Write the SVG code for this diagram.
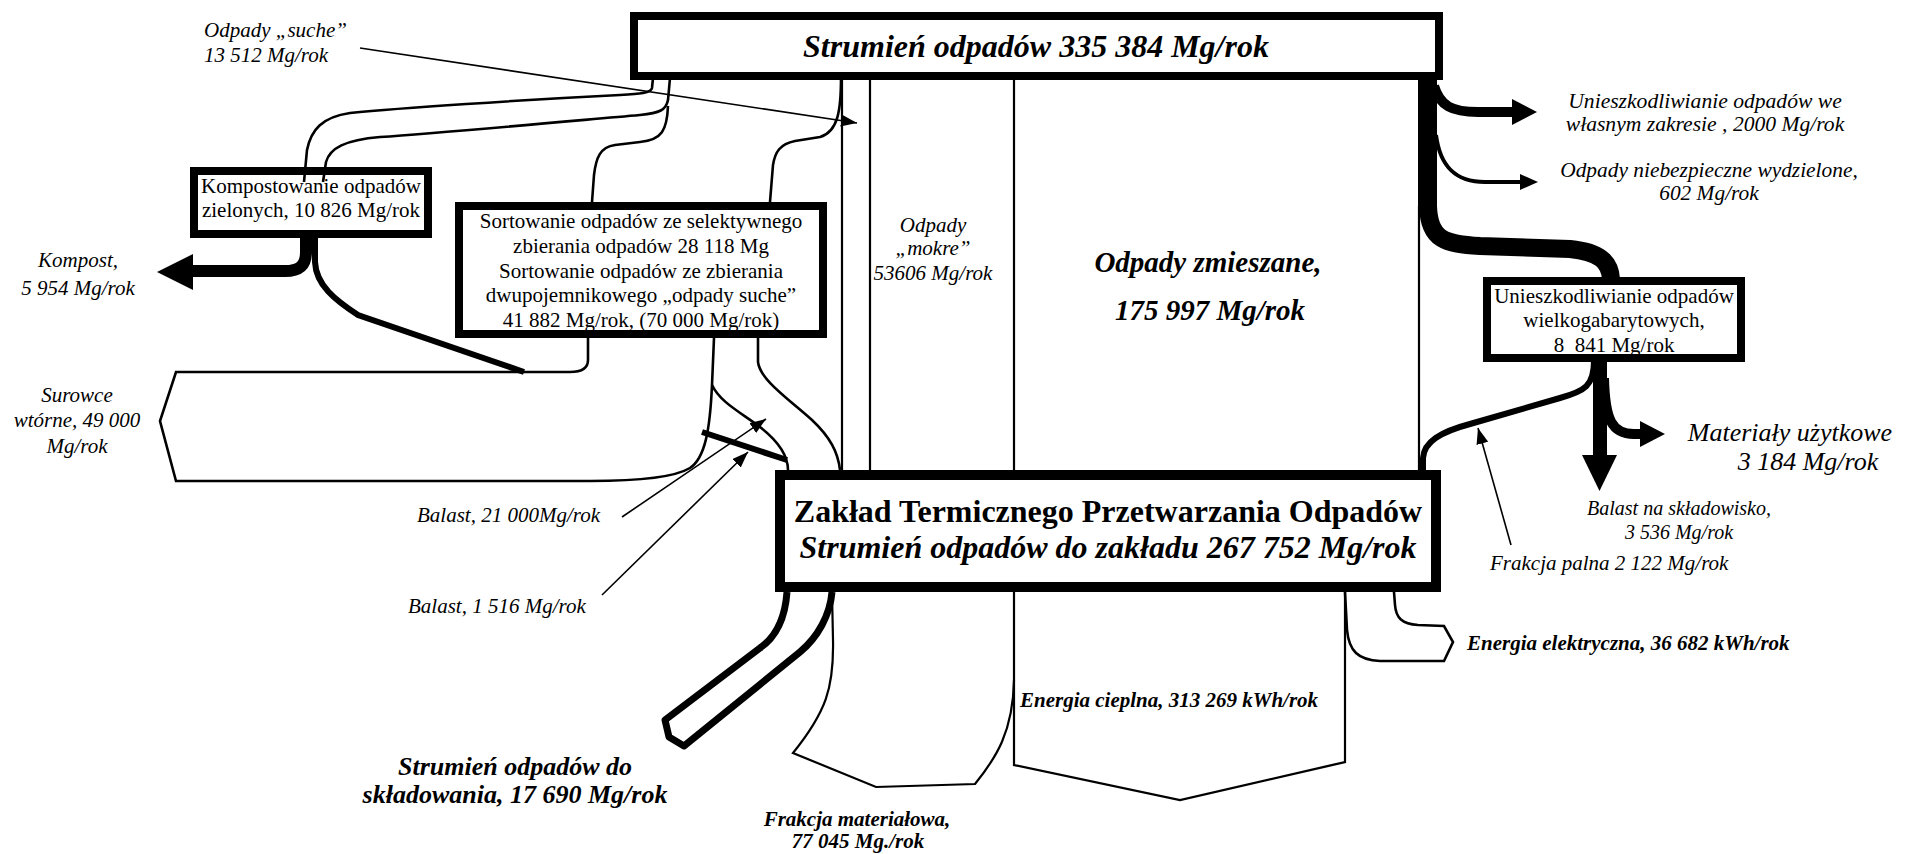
<svg xmlns="http://www.w3.org/2000/svg" width="1906" height="854" viewBox="0 0 1906 854">
<style>
.box{fill:#fff;stroke:#000;stroke-width:8}
.boxz{fill:#fff;stroke:#000;stroke-width:10}
.ln{fill:none;stroke:#000;stroke-width:2.2}
.cv{fill:none;stroke:#000;stroke-width:2.6}
.ptr{fill:none;stroke:#000;stroke-width:1.6;marker-end:url(#ah)}
.thk{fill:none;stroke:#000}
.head{fill:#000}
text{font-family:"Liberation Serif","Times New Roman",serif;fill:#000;font-size:21px}
.i{font-style:italic}
.bi{font-style:italic;font-weight:bold}
.b{font-weight:bold}
.m{text-anchor:middle}
</style>
<defs>
<marker id="ah" markerUnits="userSpaceOnUse" markerWidth="16" markerHeight="12" refX="16" refY="6" orient="auto">
<path d="M0,0L16,6L0,12z" fill="#000"/>
</marker>
</defs>

<!-- process boxes -->
<g id="stream-total">
<rect class="box" x="634" y="16" width="805" height="60"/>
<text class="bi m" x="1036" y="57" style="font-size:32px">Strumień odpadów 335 384 Mg/rok</text>
</g>
<g id="composting">
<rect class="box" x="194" y="171" width="234" height="63"/>
<text class="m" x="311" y="193">Kompostowanie odpadów</text>
<text class="m" x="311" y="217">zielonych, 10 826 Mg/rok</text>
</g>
<g id="sorting">
<rect class="box" x="459" y="206" width="364" height="128"/>
<text class="m" x="641" y="228">Sortowanie odpadów ze selektywnego</text>
<text class="m" x="641" y="253">zbierania odpadów 28 118 Mg</text>
<text class="m" x="641" y="278">Sortowanie odpadów ze zbierania</text>
<text class="m" x="641" y="302">dwupojemnikowego „odpady suche”</text>
<text class="m" x="641" y="327">41 882 Mg/rok, (70 000 Mg/rok)</text>
</g>
<g id="bulky">
<rect class="box" x="1487" y="281" width="254" height="77"/>
<text class="m" x="1614" y="303">Unieszkodliwianie odpadów</text>
<text class="m" x="1614" y="327">wielkogabarytowych,</text>
<text class="m" x="1614" y="352" xml:space="preserve">8  841 Mg/rok</text>
</g>
<g id="plant">
<rect class="boxz" x="780" y="475" width="656" height="112"/>
<text class="b m" x="1108" y="522" style="font-size:32px">Zakład Termicznego Przetwarzania Odpadów</text>
<text class="bi m" x="1108" y="558" style="font-size:32px">Strumień odpadów do zakładu 267 752 Mg/rok</text>
</g>

<!-- flows -->
<g id="connectors">
<!-- straight streams between the two main boxes -->
<path class="ln" d="M842,78V470M870,78V470M1014,78V470M1419,206V470"/>
<!-- outputs below the plant -->
<path class="ln" d="M1014,592V765L1180,800L1345,762V592"/>
<path class="ln" d="M832,592L833,640C834,688 826,712 793,753L876,787L975,784C996,758 1013,732 1014,680"/>
<path class="cv" d="M1345,592L1347,630C1349,651 1358,660 1380,661L1444,661L1453,642L1444,626L1418,625C1402,624 1396,618 1395,605L1394,592"/>
<path class="thk" stroke-width="7" stroke-linejoin="round" d="M787,592C785,620 776,637 760,648L665,720L669,737L684,746L800,652C818,637 830,615 832,592"/>

<!-- right-hand branch -->
<rect x="1418" y="78" width="19" height="132" fill="#000"/>
<path class="thk" stroke-width="18" d="M1428,206C1429,240 1445,244 1480,246L1570,249C1600,252 1610,262 1611,279"/>
<path class="thk" stroke-width="10" d="M1434,86C1440,106 1452,112 1478,112L1515,112"/>
<polygon class="head" points="1512,99 1537,112 1512,125"/>
<path class="thk" stroke-width="4" d="M1436,135C1440,166 1455,182 1485,182L1524,182"/>
<polygon class="head" points="1520,174 1538,182 1520,190"/>
<path class="thk" stroke-width="14" d="M1600,360V458"/>
<polygon class="head" points="1582,455 1617,455 1599.5,491"/>
<path class="thk" stroke-width="10" d="M1604,378C1605,420 1612,434 1634,434L1643,434"/>
<polygon class="head" points="1640,421 1665,434 1640,447"/>
<path class="thk" stroke-width="6" d="M1594,360C1594,386 1585,391 1560,398L1470,424C1440,432 1424,442 1423,458L1423,470"/>
<path class="ptr" d="M1511,545L1478,428"/>

<!-- left-hand branches from the main stream -->
<path class="cv" d="M653,78L652,88C651,93 640,94 620,95C520,100 400,108 350,113C322,117 311,130 307,150L304,182"/>
<path class="cv" d="M670,78L668,100C666,110 660,113 640,115C560,122 440,133 380,137C345,140 330,148 326,162L323,182"/>
<path class="cv" d="M668,106C667,130 662,140 640,142L615,145C600,147 596,158 594,175L592,202"/>
<path class="cv" d="M841,78C841,110 838,132 820,137L795,141C780,144 775,152 773,165L770,202"/>
<path class="ptr" d="M360,48L857,123"/>

<!-- composting outputs -->
<path class="thk" stroke-width="12" d="M306,236V252C306,266 299,271 285,271L190,271"/>
<polygon class="head" points="193,254 157,272 193,290"/>
<path class="thk" stroke-width="6" d="M315,236V262C316,285 335,300 358,315L524,372"/>

<!-- sorting outputs -->
<path class="cv" d="M588,338V360C588,368 582,372 570,372L176,372L160,421L176,481L590,481C640,481 675,477 690,468C705,458 710,430 712,385L714,338"/>
<path class="cv" d="M712,385C720,402 740,412 760,427C778,441 788,455 788,470"/>
<path class="thk" stroke-width="6" d="M702,432L787,460"/>
<path class="cv" d="M758,338V362C760,380 790,400 812,420C830,437 838,452 840,470"/>
<path class="ptr" d="M622,517L766,419"/>
<path class="ptr" d="M602,595L748,452"/>
</g>

<!-- flow labels -->
<g id="labels">
<text class="i" x="204" y="37">Odpady „suche”</text>
<text class="i" x="204" y="62">13 512 Mg/rok</text>
<text class="i m" x="78" y="267">Kompost,</text>
<text class="i m" x="78" y="295">5 954 Mg/rok</text>
<text class="i m" x="77" y="402">Surowce</text>
<text class="i m" x="77" y="427">wtórne, 49 000</text>
<text class="i m" x="77" y="453">Mg/rok</text>
<text class="i" x="417" y="522">Balast, 21 000Mg/rok</text>
<text class="i" x="408" y="613">Balast, 1 516 Mg/rok</text>
<text class="bi m" x="515" y="775" style="font-size:26px">Strumień odpadów do</text>
<text class="bi m" x="515" y="803" style="font-size:26px">składowania, 17 690 Mg/rok</text>
<text class="bi m" x="857" y="826">Frakcja materiałowa,</text>
<text class="bi m" x="858" y="848">77 045 Mg./rok</text>
<text class="bi" x="1020" y="707">Energia cieplna, 313 269 kWh/rok</text>
<text class="bi" x="1467" y="650">Energia elektryczna, 36 682 kWh/rok</text>
<text class="i m" x="933" y="232">Odpady</text>
<text class="i m" x="933" y="255">„mokre”</text>
<text class="i m" x="933" y="280">53606 Mg/rok</text>
<text class="bi m" x="1208" y="272" style="font-size:29px">Odpady zmieszane,</text>
<text class="bi m" x="1210" y="320" style="font-size:29px">175 997 Mg/rok</text>
<text class="i m" x="1705" y="108" style="font-size:21.6px">Unieszkodliwianie odpadów we</text>
<text class="i m" x="1705" y="131" style="font-size:21.6px">własnym zakresie , 2000 Mg/rok</text>
<text class="i m" x="1709" y="177" style="font-size:21.4px">Odpady niebezpieczne wydzielone,</text>
<text class="i m" x="1709" y="200" style="font-size:21.4px">602 Mg/rok</text>
<text class="i m" x="1790" y="441" style="font-size:26px">Materiały użytkowe</text>
<text class="i m" x="1808" y="470" style="font-size:26px">3 184 Mg/rok</text>
<text class="i m" x="1679" y="515" style="font-size:20px">Balast na składowisko,</text>
<text class="i m" x="1679" y="539" style="font-size:20px">3 536 Mg/rok</text>
<text class="i" x="1490" y="570">Frakcja palna 2 122 Mg/rok</text>
</g>
</svg>
